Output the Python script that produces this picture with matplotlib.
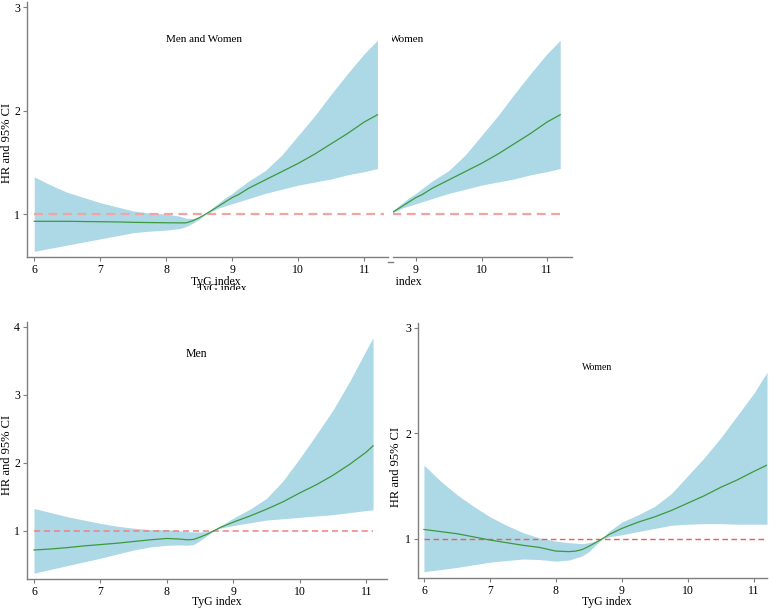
import matplotlib
matplotlib.use("Agg")
import matplotlib.pyplot as plt
from matplotlib.transforms import Bbox

plt.rcParams['font.family'] = ['Liberation Serif', 'DejaVu Serif']

# ---------------- data ----------------
# Men and Women
x_all = [6.0, 6.25, 6.5, 6.75, 7.0, 7.25, 7.5, 7.75, 8.0, 8.2, 8.3, 8.4, 8.5, 8.6, 8.7, 8.8, 8.9,
         9.0, 9.1, 9.25, 9.5, 9.75, 10.0, 10.25, 10.5, 10.75, 11.0, 11.2]
hr_all = [0.93, 0.93, 0.93, 0.928, 0.926, 0.924, 0.92, 0.918, 0.916, 0.915, 0.915, 0.935, 0.965, 1.0,
          1.04, 1.08, 1.12, 1.16, 1.19, 1.25, 1.33, 1.41, 1.49, 1.58, 1.68, 1.78, 1.89, 1.96]
up_all = [1.36, 1.28, 1.21, 1.16, 1.11, 1.07, 1.03, 1.01, 1.0, 0.98, 0.96, 0.955, 0.97, 1.0,
          1.06, 1.11, 1.16, 1.20, 1.25, 1.32, 1.42, 1.57, 1.76, 1.95, 2.16, 2.36, 2.55, 2.68]
lo_all = [0.64, 0.67, 0.70, 0.73, 0.76, 0.79, 0.82, 0.835, 0.845, 0.86, 0.88, 0.91, 0.95, 1.0,
          1.03, 1.06, 1.08, 1.10, 1.12, 1.15, 1.20, 1.24, 1.28, 1.31, 1.34, 1.38, 1.41, 1.44]

# Men
x_men = [6.0, 6.25, 6.5, 6.75, 7.0, 7.25, 7.5, 7.75, 8.0, 8.2, 8.3, 8.4, 8.5, 8.6, 8.7, 8.8,
         9.0, 9.25, 9.5, 9.75, 10.0, 10.25, 10.5, 10.75, 11.0, 11.1]
hr_men = [0.72, 0.735, 0.755, 0.78, 0.80, 0.82, 0.845, 0.87, 0.89, 0.88, 0.87, 0.875, 0.91, 0.95,
          1.0, 1.05, 1.13, 1.22, 1.32, 1.43, 1.56, 1.68, 1.82, 1.98, 2.16, 2.25]
up_men = [1.33, 1.27, 1.21, 1.16, 1.11, 1.07, 1.04, 1.02, 1.02, 1.0, 0.99, 0.985, 0.985, 0.99,
          1.01, 1.07, 1.19, 1.32, 1.48, 1.74, 2.07, 2.42, 2.78, 3.2, 3.66, 3.84]
lo_men = [0.38, 0.435, 0.49, 0.545, 0.60, 0.66, 0.72, 0.765, 0.79, 0.795, 0.79, 0.80, 0.86, 0.93,
          1.0, 1.04, 1.08, 1.12, 1.16, 1.18, 1.20, 1.22, 1.24, 1.27, 1.30, 1.31]

# Women
x_wom = [6.0, 6.25, 6.5, 6.75, 7.0, 7.25, 7.5, 7.75, 8.0, 8.2, 8.3, 8.4, 8.5, 8.6, 8.7, 8.8,
         9.0, 9.25, 9.5, 9.75, 10.0, 10.25, 10.5, 10.75, 11.0, 11.2]
hr_wom = [1.09, 1.07, 1.05, 1.02, 0.99, 0.965, 0.94, 0.92, 0.885, 0.88, 0.885, 0.90, 0.93, 0.965,
          1.0, 1.04, 1.10, 1.16, 1.21, 1.27, 1.34, 1.41, 1.49, 1.56, 1.64, 1.70]
up_wom = [1.70, 1.55, 1.42, 1.31, 1.21, 1.13, 1.06, 1.01, 0.98, 0.965, 0.96, 0.955, 0.965, 0.98,
          1.0, 1.07, 1.16, 1.23, 1.31, 1.43, 1.60, 1.77, 1.96, 2.17, 2.38, 2.58]
lo_wom = [0.69, 0.71, 0.73, 0.755, 0.78, 0.795, 0.81, 0.805, 0.79, 0.80, 0.82, 0.84, 0.88, 0.94,
          1.0, 1.02, 1.04, 1.07, 1.10, 1.13, 1.14, 1.145, 1.145, 1.14, 1.14, 1.14]

xticks = [6, 7, 8, 9, 10, 11]
xlabel = "TyG index"
ylabel = "HR and 95% CI"

W, H = 780, 609
fig = plt.figure(figsize=(W / 100, H / 100), dpi=100)

BAND = '#add8e6'
LINE = '#3c9a3c'
SPINE = '#7f7f7f'
TICKFS = 8.5
XLFS = 8.5
YLFS = 9


def px_axes(left, right, top, bottom):
    return fig.add_axes([left / W, (H - bottom) / H, (right - left) / W, (bottom - top) / H])


def ftext(x, y, s, **kw):
    return fig.text(x / W, 1 - y / H, s, **kw)


def style(ax, ylim, xlim, yticks, left=True):
    for s in ['top', 'right']:
        ax.spines[s].set_visible(False)
    for s in ['left', 'bottom']:
        ax.spines[s].set_color(SPINE)
        ax.spines[s].set_linewidth(1.0)
    ax.set_xticks([t for t in xticks if xlim[0] <= t <= xlim[1]])
    ax.set_yticks(yticks)
    ax.tick_params(axis='both', length=3, width=0.8, color=SPINE, labelsize=TICKFS, pad=2)
    if not left:
        ax.spines['left'].set_visible(False)
        ax.set_yticks([])
    ax.set_xlim(*xlim)
    ax.set_ylim(*ylim)


def draw(ax, x, hr, lo, up, dash_color, dash_lw, xend):
    ax.fill_between(x, lo, up, color=BAND, lw=0, zorder=1)
    ax.plot(x, hr, color=LINE, lw=0.9, zorder=3)
    ax.plot([6, xend], [1, 1], color=dash_color, lw=dash_lw, ls=(0, (4, 2.5)), zorder=2)


# ---- Top-left: Men and Women ----
ax1 = px_axes(27, 388, 2, 257)
draw(ax1, x_all, hr_all, lo_all, up_all, '#f4a3a3', 1.6, 11.3)
style(ax1, (0.585, 3.05), (5.89, 11.36), [1, 2, 3])
ftext(204, 39, "Men and Women", ha='center', va='center', fontsize=8)
ftext(7, 143, ylabel, ha='center', va='center', rotation=90, fontsize=YLFS)
ftext(216, 282, xlabel, ha='center', va='center', fontsize=XLFS)
t2 = ftext(222, 289, xlabel, ha='center', va='center', fontsize=XLFS)
t2.set_clip_box(Bbox([[0, H - 290], [W, H]]))
t2.set_clip_on(True)

# ---- Top-right fragment (cropped copy of a panel) ----
axf = px_axes(393, 572, 2, 257)
draw(axf, x_all, hr_all, lo_all, up_all, '#f4a3a3', 1.6, 11.2)
style(axf, (0.585, 3.05), (8.65, 11.38), [1, 2, 3], left=False)
fig.add_artist(plt.Line2D([388 / W, 393 / W], [1 - 262 / H, 1 - 262 / H], color=SPINE, lw=1))
tw = ftext(390, 39, "Women", ha='left', va='center', fontsize=8)
tf = ftext(422, 282, xlabel, ha='right', va='center', fontsize=XLFS)
clipbb = Bbox([[392, 0], [W, H]])
for t in (tw, tf):
    t.set_clip_box(clipbb)
    t.set_clip_on(True)

# ---- Bottom-left: Men ----
ax2 = px_axes(27, 387, 322, 579)
draw(ax2, x_men, hr_men, lo_men, up_men, '#f27f7f', 1.1, 11.1)
style(ax2, (0.294, 4.07), (5.895, 11.31), [1, 2, 3, 4])
ftext(196, 354, "Men", ha='center', va='center', fontsize=8.5)
ftext(7, 455, ylabel, ha='center', va='center', rotation=90, fontsize=YLFS)
ftext(217, 602, xlabel, ha='center', va='center', fontsize=XLFS)

# ---- Bottom-right: Women ----
ax3 = px_axes(418, 767, 323, 578)
draw(ax3, x_wom, hr_wom, lo_wom, up_wom, '#f05a5a', 1.0, 11.15)
style(ax3, (0.63, 3.047), (5.91, 11.2), [1, 2, 3])
ftext(597, 368, "Women", ha='center', va='center', fontsize=7)
ftext(396, 467, ylabel, ha='center', va='center', rotation=90, fontsize=YLFS)
ftext(607, 602, xlabel, ha='center', va='center', fontsize=XLFS)

fig.savefig("out.png", dpi=100)
